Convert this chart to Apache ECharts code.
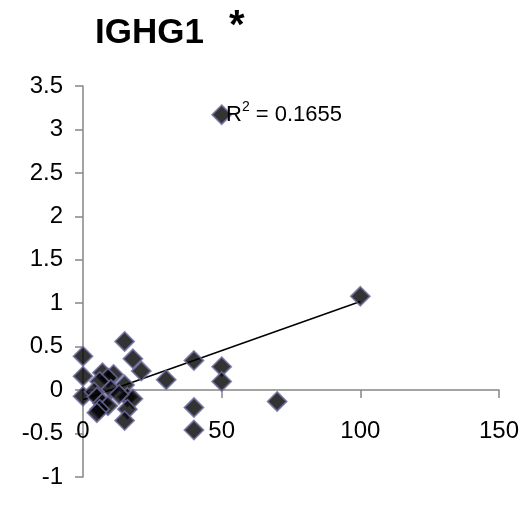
<!DOCTYPE html>
<html><head><meta charset="utf-8">
<script src="https://cdn.jsdelivr.net/npm/echarts@6/dist/echarts.min.js"></script>
<style>html,body{margin:0;padding:0;background:#fff}#c{width:524px;height:514px}</style>
</head><body><div id="c"></div>
<script>
var xValues = [0, 0, 0, 15, 18, 21, 7, 11, 9, 6, 15, 10, 4, 5, 16, 18, 13, 7, 9, 6, 5, 16, 15, 30, 40, 50, 50, 40, 40, 70, 100, 50];
var yValues = [0.39, 0.16, -0.07, 0.56, 0.36, 0.22, 0.2, 0.18, 0.14, 0.1, 0.06, 0.01, -0.02, -0.08, -0.08, -0.1, -0.05, -0.15, -0.18, -0.22, -0.26, -0.22, -0.35, 0.12, 0.34, 0.27, 0.1, -0.2, -0.46, -0.13, 1.08, 3.17];
var trendX = [0, 100];
var trendY = [-0.11, 1.02];
var xTicks = [0, 50, 100, 150];
var yTicks = [-1, -0.5, 0, 0.5, 1, 1.5, 2, 2.5, 3, 3.5];
var titleText = 'IGHG1';
var r2Text = '0.1655';

var pts = xValues.map(function(x, i){ return [x, yValues[i]]; });
var trend = trendX.map(function(x, i){ return [x, trendY[i]]; });
var font = 'Liberation Sans, Arial, sans-serif';
var chart = echarts.init(document.getElementById('c'), null, {renderer: 'canvas'});
chart.setOption({
  animation: false,
  backgroundColor: '#fff',
  grid: {left: 83, right: 25, top: 86, bottom: 37, outerBoundsMode: 'none'},
  xAxis: {
    type: 'value', min: xTicks[0], max: xTicks[xTicks.length-1], interval: 50,
    axisLine: {onZero: true, lineStyle: {color: '#868686', width: 1.5}},
    axisTick: {length: 8, lineStyle: {color: '#868686', width: 1.5}},
    axisLabel: {margin: -58, color: '#000', fontSize: 24, fontFamily: font},
    splitLine: {show: false}
  },
  yAxis: {
    type: 'value', min: yTicks[0], max: yTicks[yTicks.length-1], interval: 0.5,
    axisLine: {onZero: false, lineStyle: {color: '#868686', width: 1.5}},
    axisTick: {show: true, length: 8, lineStyle: {color: '#868686', width: 1.5}},
    axisLabel: {margin: 20, color: '#000', fontSize: 24, fontFamily: font},
    splitLine: {show: false}
  },
  series: [
    {type: 'line', data: trend, symbol: 'none', lineStyle: {color: '#000', width: 1.5}, z: 1},
    {type: 'scatter', data: pts, symbol: 'diamond', symbolSize: 19,
     itemStyle: {color: '#000', borderColor: '#6B6B9E', borderWidth: 1.8}, z: 2}
  ],
  graphic: [
    {type: 'text', left: 95, top: 16, style: {text: titleText, font: 'bold 35px ' + font, fill: '#000'}},
    {type: 'text', left: 229, top: 7, style: {text: '*', font: 'bold 40px ' + font, fill: '#000'}},
    {type: 'text', left: 226, top: 100, z: 10, style: {
      text: '{a|R}{s|2}{a| = ' + r2Text + '}',
      rich: {a: {fontSize: 22, fontFamily: font, color: '#000', verticalAlign: 'bottom', lineHeight: 26},
             s: {fontSize: 14, fontFamily: font, color: '#000', verticalAlign: 'top', lineHeight: 26, padding: [0,0,12,0]}}
    }}
  ]
});
</script></body></html>
